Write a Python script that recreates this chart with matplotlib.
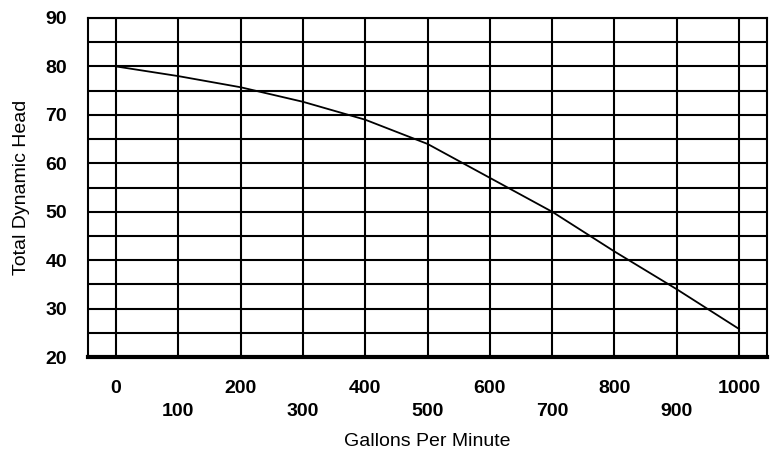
import matplotlib
matplotlib.use("Agg")
import matplotlib.pyplot as plt
from matplotlib.ticker import MultipleLocator

plt.rcParams['font.family'] = ['Liberation Sans', 'DejaVu Sans']

gpm = [0, 100, 200, 300, 400, 500, 600, 700, 800, 900, 1000]
head = [80, 78, 75.7, 72.7, 69, 64, 57, 50, 41.8, 34, 25.8]
x_ticks = [0, 100, 200, 300, 400, 500, 600, 700, 800, 900, 1000]
y_ticks = [20, 30, 40, 50, 60, 70, 80, 90]

fig = plt.figure(figsize=(7.75, 4.54), dpi=100)
ax = fig.add_axes([88/775, 1 - 357/454, (767-88)/775, (357-18)/454])

ax.plot(gpm, head, color='black', lw=1.3, zorder=3)
ax.set_xlim(-45, 1045)
ax.set_ylim(20, 90)

ax.set_xticks(x_ticks)
ax.set_xticklabels([])
ax.set_yticks(y_ticks)
ax.yaxis.set_minor_locator(MultipleLocator(5))
ax.set_yticklabels([str(v) for v in y_ticks], fontweight='bold', fontsize=14)
ax.tick_params(axis='both', which='both', length=0)
ax.tick_params(axis='y', pad=15)

ax.grid(True, which='both', axis='y', color='black', lw=1.5)
ax.grid(True, which='major', axis='x', color='black', lw=1.5)

for i, v in enumerate(x_ticks):
    yoff = -0.092 if i % 2 == 0 else -0.16
    ax.text(v, yoff, str(v), transform=ax.get_xaxis_transform(), ha='center',
            va='center', fontsize=14, fontweight='bold')

for s in ax.spines.values():
    s.set_color('black')
    s.set_linewidth(1.5)
ax.spines['bottom'].set_linewidth(3)

fig.text((88+767)/2/775, 1 - 442/454, 'Gallons Per Minute', ha='center', va='center', fontsize=14)
fig.text(22/775, 1 - 187/454, 'Total Dynamic Head', ha='center', va='center', rotation=90, fontsize=14)

fig.savefig('out.png', dpi=100)
